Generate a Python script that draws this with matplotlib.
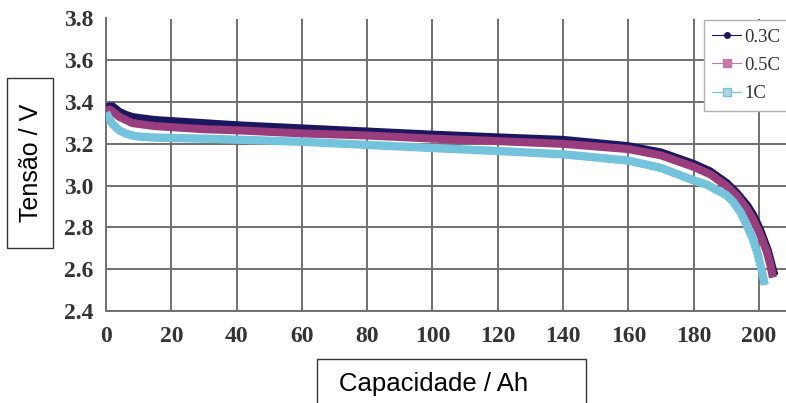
import matplotlib.pyplot as plt
from matplotlib.lines import Line2D
from matplotlib.patches import Rectangle

# capacidade (Ah) e tensão (V)
x_03 = [0, 1, 2, 4, 6, 8, 10, 15, 20, 30, 40, 60, 80, 100, 120, 140, 160,
        170, 180, 185, 190, 193, 196.5, 198.3, 200.4, 202.8, 203.8, 204.8]
v_03 = [3.37, 3.38, 3.38, 3.355, 3.34, 3.33, 3.325, 3.315, 3.31, 3.30, 3.29,
        3.275, 3.26, 3.245, 3.232, 3.22, 3.19, 3.16, 3.105, 3.07, 3.015,
        2.97, 2.905, 2.86, 2.79, 2.69, 2.63, 2.57]

x_05 = [0, 1, 2, 4, 6, 8, 10, 15, 20, 30, 40, 60, 80, 100, 120, 140, 160,
        170, 180, 185, 190, 193, 196.3, 198, 200, 202.4, 203.5, 204.3]
v_05 = [3.36, 3.365, 3.355, 3.33, 3.315, 3.30, 3.295, 3.285, 3.28, 3.27,
        3.265, 3.25, 3.24, 3.225, 3.213, 3.20, 3.175, 3.145, 3.09, 3.055,
        3.0, 2.955, 2.89, 2.845, 2.78, 2.685, 2.62, 2.56]

x_1 = [0, 1, 2, 4, 6, 8, 10, 15, 20, 30, 40, 60, 80, 100, 120, 140, 160,
       170, 180, 184, 187, 190, 192, 194.5, 196.3, 198, 199.4, 200.8, 201.8]
v_1 = [3.35, 3.32, 3.295, 3.265, 3.25, 3.24, 3.235, 3.23, 3.228, 3.225, 3.22,
       3.21, 3.195, 3.18, 3.166, 3.15, 3.12, 3.085, 3.025, 3.005, 2.98, 2.955,
       2.925, 2.87, 2.81, 2.75, 2.685, 2.60, 2.525]

labels = ['0.3C', '0.5C', '1C']
xticks = list(range(0, 201, 20))
yticks = [2.4, 2.6, 2.8, 3.0, 3.2, 3.4, 3.6, 3.8]

c_03 = '#1c1660'
c_05 = '#9a3d7c'
c_1 = '#72c3db'
grid_c = '#707070'

fig = plt.figure(figsize=(7.86, 4.03), dpi=100)
ax = fig.add_axes([106 / 786, 1 - 311 / 403, 680 / 786, (311 - 18.5) / 403])

ax.plot(x_03, v_03, color=c_03, lw=5.5, solid_capstyle='butt', zorder=3)
ax.plot(x_05, v_05, color=c_05, lw=5.8, solid_capstyle='butt', zorder=4)
ax.plot(x_1, v_1, color=c_1, lw=6.0, solid_capstyle='butt', zorder=5)

ax.set_xlim(0, 208.3)
ax.set_ylim(2.4, 3.8)
ax.set_xticks(xticks)
ax.set_yticks(yticks)
ax.set_yticklabels(['%.1f' % t for t in yticks])
ax.grid(True, color=grid_c, lw=1.4, zorder=1)
ax.set_axisbelow(True)
for s in ['top', 'right']:
    ax.spines[s].set_visible(False)
for s in ['left', 'bottom']:
    ax.spines[s].set_color(grid_c)
    ax.spines[s].set_linewidth(1.4)
ax.tick_params(length=0, labelcolor='#333333', labelsize=17)
ax.tick_params(axis='y', pad=9)
ax.tick_params(axis='x', pad=11)
for lab in ax.get_xticklabels() + ax.get_yticklabels():
    lab.set_fontfamily('Liberation Serif')
    lab.set_fontweight('bold')

handles = [
    Line2D([], [], color=c_03, lw=0.8, marker='o', ms=4),
    Line2D([], [], color='#c47aa8', lw=0.8, marker='s', ms=6),
    Line2D([], [], color=c_1, lw=0.8, marker='s', ms=6, mfc='#a9d7e6'),
]
leg = fig.legend(handles, labels, loc='upper left',
                 bbox_to_anchor=(704 / 786, 1 - 20 / 403),
                 prop={'family': 'Liberation Serif', 'size': 13.5},
                 handlelength=1.5, handletextpad=0.2, borderaxespad=0,
                 borderpad=0.45, labelspacing=0.6, fancybox=False,
                 framealpha=1, edgecolor='#b0b0b0')
leg.get_frame().set_linewidth(1.0)
for t in leg.get_texts():
    t.set_color('#333333')

# caixas dos títulos dos eixos
fig.patches.append(Rectangle((7 / 786, 1 - 248 / 403), 46 / 786, 170 / 403,
                             transform=fig.transFigure, fill=False,
                             ec='#333333', lw=1.0))
fig.text(31 / 786, 1 - 163 / 403, 'Tensão / V', rotation=90,
         ha='center', va='center', fontsize=18, family='Liberation Sans')

fig.patches.append(Rectangle((317 / 786, -0.05), 269 / 786, 0.05 + 44 / 403,
                             transform=fig.transFigure, fill=False,
                             ec='#333333', lw=1.0))
fig.text(434 / 786, 1 - 384 / 403, 'Capacidade / Ah',
         ha='center', va='center', fontsize=18.5, family='Liberation Sans')

fig.savefig('out.png', dpi=100)
